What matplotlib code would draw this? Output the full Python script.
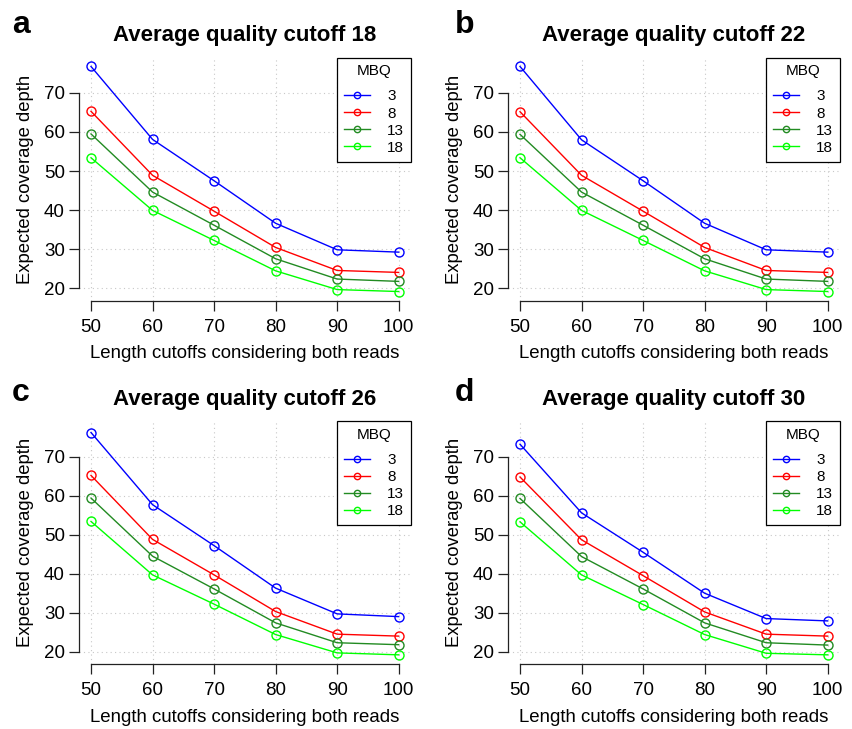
import matplotlib
matplotlib.use("Agg")
import matplotlib.pyplot as plt

plt.rcParams["font.family"] = ["Liberation Sans", "DejaVu Sans"]

# 数据：长度阈值 × MBQ，四个平均质量阈值
length_cutoffs = [50, 60, 70, 80, 90, 100]
mbq_levels = ["3", "8", "13", "18"]
mbq_colors = ["#0000FF", "#FF0000", "#228B22", "#00FF00"]
panel_letters = ["a", "b", "c", "d"]
quality_cutoffs = [18, 22, 26, 30]

depth_q18 = [
    [76.8, 58.1, 47.5, 36.6, 29.8, 29.2],
    [65.3, 48.9, 39.7, 30.4, 24.5, 24.0],
    [59.5, 44.6, 36.1, 27.5, 22.3, 21.7],
    [53.4, 39.9, 32.2, 24.4, 19.6, 19.1],
]
depth_q22 = [
    [76.8, 58.0, 47.5, 36.6, 29.8, 29.2],
    [65.2, 48.9, 39.7, 30.4, 24.5, 24.0],
    [59.4, 44.6, 36.1, 27.5, 22.3, 21.7],
    [53.4, 39.9, 32.2, 24.4, 19.6, 19.1],
]
depth_q26 = [
    [76.2, 57.7, 47.2, 36.3, 29.7, 29.0],
    [65.2, 48.8, 39.7, 30.3, 24.5, 24.0],
    [59.4, 44.5, 36.1, 27.4, 22.3, 21.8],
    [53.4, 39.7, 32.2, 24.4, 19.7, 19.2],
]
depth_q30 = [
    [73.2, 55.6, 45.5, 35.0, 28.5, 27.9],
    [64.8, 48.7, 39.5, 30.2, 24.5, 24.0],
    [59.3, 44.4, 36.1, 27.4, 22.3, 21.7],
    [53.3, 39.7, 32.1, 24.4, 19.6, 19.2],
]
all_depths = [depth_q18, depth_q22, depth_q26, depth_q30]

y_ticks = [20, 30, 40, 50, 60, 70]

W, H = 853, 729
fig = plt.figure(figsize=(W / 100, H / 100), dpi=100, facecolor="white")

# 每个面板绘图区（像素）：left, right, top, bottom
boxes = [
    (78.7, 411.0, 57.5, 300.5),
    (507.7, 840.0, 57.5, 300.5),
    (78.7, 411.0, 421.2, 664.2),
    (507.7, 840.0, 421.2, 664.2),
]
letter_pos = [(12, 33), (455, 33), (12, 401), (455, 401)]

for i, depths in enumerate(all_depths):
    l, r, t, b = boxes[i]
    ax = fig.add_axes([l / W, 1 - b / H, (r - l) / W, (b - t) / H])
    ax.set_xlim(48, 102)
    ax.set_ylim(16.8, 79.1)

    # R 风格 grid()：浅灰点线
    for x in length_cutoffs:
        ax.axvline(x, color="#C8C8C8", lw=0.8, ls=(0, (1, 3)), zorder=0)
    for y in y_ticks:
        ax.axhline(y, color="#C8C8C8", lw=0.8, ls=(0, (1, 3)), zorder=0)

    for vals, lab, col in zip(depths, mbq_levels, mbq_colors):
        ax.plot(length_cutoffs, vals, color=col, lw=1.0, marker="o",
                markersize=6.5, markerfacecolor="none", markeredgewidth=1.0,
                label=lab)

    for side in ["top", "right"]:
        ax.spines[side].set_visible(False)
    ax.spines["left"].set_bounds(20, 70)
    ax.spines["bottom"].set_bounds(50, 100)
    for side in ["left", "bottom"]:
        ax.spines[side].set_linewidth(0.9)
        ax.spines[side].set_color("#222222")

    ax.set_xticks(length_cutoffs)
    ax.set_yticks(y_ticks)
    ax.tick_params(axis="both", direction="out", length=7, width=0.9,
                   color="#222222", labelsize=13.5)
    ax.tick_params(axis="y", pad=3)
    ax.tick_params(axis="x", pad=6)

    ax.set_xlabel("Length cutoffs considering both reads", fontsize=13.4, labelpad=7)
    ax.set_ylabel("Expected coverage depth", fontsize=13.3, labelpad=7)
    ax.set_title(f"Average quality cutoff {quality_cutoffs[i]}", fontsize=16,
                 fontweight="bold", pad=12)

    leg = ax.legend(title="MBQ", loc="upper right", bbox_to_anchor=(1.0, 1.0),
                    borderaxespad=0, fontsize=11, title_fontsize=11,
                    fancybox=False, framealpha=1, edgecolor="black",
                    handlelength=1.75, handletextpad=1.1, labelspacing=0.2,
                    markerscale=0.7, borderpad=0.45)
    leg._legend_box.sep = 8  # 标题与条目之间留更大间距
    leg.get_frame().set_linewidth(0.9)

    lx, ly = letter_pos[i]
    fig.text(lx / W, 1 - ly / H, panel_letters[i], fontsize=23,
             fontweight="bold", ha="left", va="baseline")

fig.savefig("out.png", dpi=100, facecolor="white")
plt.close(fig)
